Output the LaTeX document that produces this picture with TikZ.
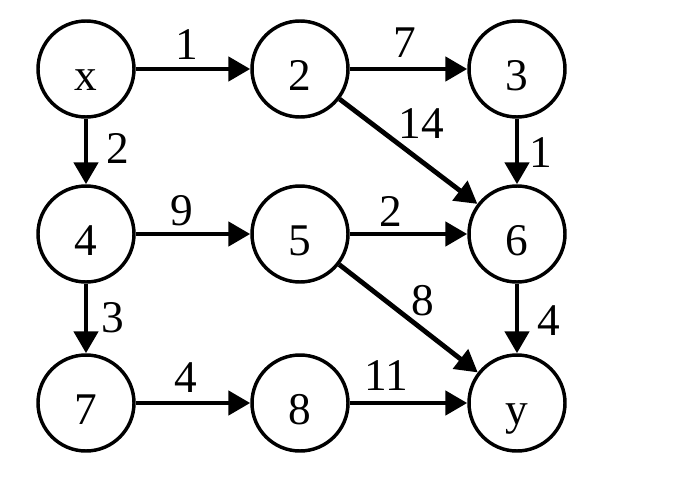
\documentclass[tikz,border=0pt]{standalone}
\usepackage{fontspec}
\setmainfont{Liberation Serif}
\usetikzlibrary{arrows.meta}

\tikzstyle{vertex}=[draw, circle, line width=2.6pt, minimum size=72pt, inner sep=0pt, text height=31.5pt, text depth=0pt]
\tikzstyle{dep}=[-{Triangle[length=16.5pt, width=18pt]}, line width=3.6pt]
\tikzstyle{weight}=[inner sep=0pt]

\begin{document}
\begin{tikzpicture}[x=0.75pt, y=0.75pt, font=\fontsize{34}{40}\selectfont]
      \useasboundingbox (0,0) rectangle (674,494);
      \foreach \n/\px/\py in {x/86/425, 2/300/425, 3/517/425, 4/86/260, 5/300/260, 6/517/260, 7/86/91, 8/300/91, y/517/91} {%
        \node[vertex] (\n) at (\px, \py) {\n};
      }
      \draw[dep] (x) -- node[weight, pos=.45, above=5.2pt] {1} (2);
      \draw[dep] (2) -- node[weight, pos=.47, above=6.8pt] {7} (3);
      \draw[dep] (x) -- node[weight, pos=.46, right=13.2pt] {2} (4);
      \draw[dep] (2) -- node[weight, pos=.46, xshift=13.7pt, yshift=18pt] {14} (6);
      \draw[dep] (3) -- node[weight, pos=.51, right=7.5pt] {1} (6);
      \draw[dep] (4) -- node[weight, pos=.40, above=4pt] {9} (5);
      \draw[dep] (5) -- node[weight, pos=.35, above=4pt] {2} (6);
      \draw[dep] (4) -- node[weight, pos=.49, right=9.8pt] {3} (7);
      \draw[dep] (5) -- node[weight, pos=.50, xshift=10.5pt, yshift=13.5pt] {8} (y);
      \draw[dep] (6) -- node[weight, pos=.53, right=13.5pt] {4} (y);
      \draw[dep] (7) -- node[weight, pos=.44, above=6pt] {4} (8);
      \draw[dep] (8) -- node[weight, pos=.31, above=7.5pt] {11} (y);
\end{tikzpicture}
\end{document}
